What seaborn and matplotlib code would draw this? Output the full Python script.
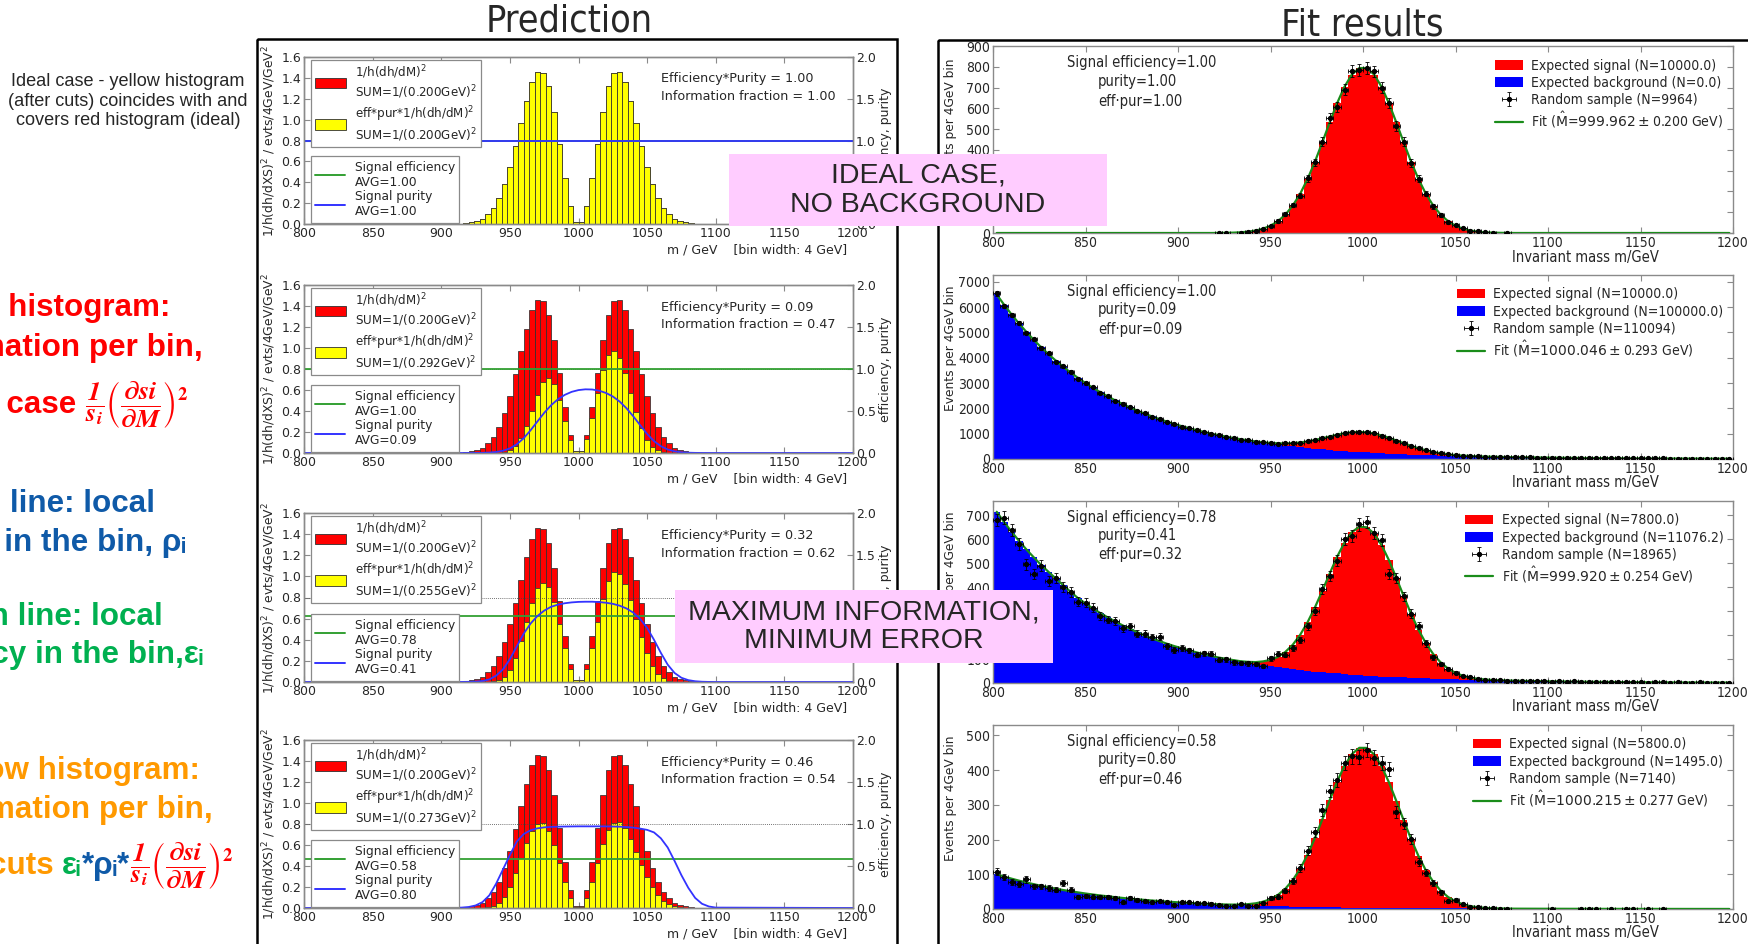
import numpy as np
import pandas as pd
import matplotlib
matplotlib.use("Agg")
import matplotlib.pyplot as plt
import seaborn as sns
from matplotlib import font_manager
from matplotlib.patches import Rectangle, Patch
from matplotlib.lines import Line2D
from matplotlib.ticker import FormatStrFormatter

sns.set_theme(style="ticks")
plt.rcParams["font.family"] = ["DejaVu Sans"]
plt.rcParams["mathtext.fontset"] = "dejavusans"

_fonts = font_manager.fontManager.ttflist
_names = {f.name for f in _fonts}
ARIAL = "Liberation Sans" if "Liberation Sans" in _names else "DejaVu Sans"
if any(f.name == "DejaVu Sans" and str(f.stretch) in ("condensed", "semi-condensed") for f in _fonts):
    NARROW_KW = dict(family="DejaVu Sans", stretch="condensed")
elif "Liberation Sans Narrow" in _names:
    NARROW_KW = dict(family="Liberation Sans Narrow", stretch="normal")
else:
    NARROW_KW = dict(family=ARIAL, stretch="normal")
NARROW_TXT = dict(fontfamily=NARROW_KW["family"], fontstretch=NARROW_KW["stretch"])

RED, YELLOW, BLUE, GREEN = "#ff0000", "#ffff00", "#0000ff", "#1a8c1a"
LINE_BLUE, LINE_GREEN = "#3333ff", "#33a033"
GRAY = "#8a8a8a"
TXT_RED, TXT_BLUE, TXT_GREEN, TXT_ORANGE = "#ff0000", "#0f5aa8", "#00b050", "#ff9900"

# ---------------------------------------------------------------- data
# information per 4 GeV bin, bins 916..1084 GeV
info_edges = list(range(916, 1088, 4))
info_centers = np.array(info_edges[:-1]) + 2
info_ideal = [0.008, 0.015, 0.027, 0.052, 0.093, 0.156, 0.250, 0.379, 0.547, 0.750,
              0.970, 1.182, 1.358, 1.457, 1.449, 1.319, 1.077, 0.766, 0.440, 0.172,
              0.020, 0.020, 0.172, 0.440, 0.766, 1.077, 1.319, 1.449, 1.457, 1.358,
              1.182, 0.970, 0.750, 0.547, 0.379, 0.250, 0.156, 0.093, 0.052, 0.027,
              0.015, 0.008]
info_cut_r1 = info_ideal  # eff*pur = 1 everywhere
info_cut_r2 = [0.0, 0.0, 0.0, 0.0001, 0.0004, 0.0014, 0.0045, 0.0124, 0.031, 0.071,
               0.143, 0.254, 0.402, 0.557, 0.675, 0.715, 0.653, 0.505, 0.308, 0.125,
               0.015, 0.015, 0.131, 0.335, 0.576, 0.790, 0.932, 0.969, 0.903, 0.758,
               0.571, 0.390, 0.237, 0.127, 0.061, 0.026, 0.010, 0.0034, 0.001, 0.0003,
               0.0001, 0.0]
info_cut_r3 = [0.0, 0.0, 0.0001, 0.0005, 0.0019, 0.0067, 0.0205, 0.0503, 0.115, 0.228,
               0.386, 0.570, 0.750, 0.886, 0.940, 0.897, 0.756, 0.548, 0.320, 0.126,
               0.0148, 0.0148, 0.127, 0.326, 0.566, 0.790, 0.960, 1.041, 1.026, 0.929,
               0.774, 0.598, 0.424, 0.273, 0.156, 0.0794, 0.0352, 0.0134, 0.0043, 0.0012,
               0.0003, 0.0001]
info_cut_r4 = [0.0, 0.0002, 0.0006, 0.0021, 0.0072, 0.0212, 0.0519, 0.109, 0.200, 0.330,
               0.475, 0.616, 0.733, 0.801, 0.805, 0.737, 0.604, 0.430, 0.248, 0.097,
               0.0113, 0.0113, 0.097, 0.248, 0.431, 0.607, 0.742, 0.814, 0.818, 0.760,
               0.658, 0.536, 0.410, 0.295, 0.199, 0.125, 0.0711, 0.0371, 0.0169, 0.0066,
               0.0026, 0.0009]

# local signal purity (right axis), sampled on 800, 900..1100 step 5, 1200
purity_x = np.r_[800, np.arange(900, 1101, 5), 1200]
purity_r2 = [0.0,
             0.0, 0.0, 0.0, 0.0001, 0.0003, 0.0008, 0.0021, 0.0053, 0.0125, 0.027,
             0.055, 0.103, 0.175, 0.269, 0.374, 0.478, 0.568, 0.640, 0.692, 0.728,
             0.749, 0.758, 0.756, 0.742, 0.715, 0.673, 0.612, 0.532, 0.435, 0.330,
             0.227, 0.142, 0.081, 0.042, 0.020, 0.0087, 0.0037, 0.0015, 0.0005, 0.0002,
             0.0,
             0.0]
purity_r3 = [0.0,
             0.0, 0.0, 0.0002, 0.0008, 0.002, 0.005, 0.012, 0.03, 0.075, 0.15,
             0.27, 0.42, 0.57, 0.69, 0.78, 0.845, 0.89, 0.915, 0.932, 0.942,
             0.948, 0.95, 0.95, 0.946, 0.938, 0.925, 0.903, 0.87, 0.82, 0.745,
             0.64, 0.5, 0.345, 0.205, 0.107, 0.05, 0.022, 0.009, 0.003, 0.001,
             0.0,
             0.0]
purity_r4 = [0.0,
             0.0, 0.0005, 0.002, 0.005, 0.012, 0.03, 0.07, 0.15, 0.29, 0.46,
             0.63, 0.79, 0.88, 0.925, 0.948, 0.96, 0.966, 0.968, 0.97, 0.971,
             0.972, 0.972, 0.972, 0.972, 0.971, 0.97, 0.968, 0.964, 0.957, 0.945,
             0.93, 0.9, 0.83, 0.72, 0.56, 0.39, 0.24, 0.12, 0.05, 0.018,
             0.005,
             0.0]

# fitted mass spectra, 4 GeV bins 800..1200 GeV
fit_edges = list(range(800, 1204, 4))
fit_centers = np.array(fit_edges[:-1]) + 2
SIG_SLICE = slice(30, 70)  # signal bins 920..1080 GeV

sig_r1 = [0.4, 0.84, 1.76, 3.4, 6.5, 11.9, 20.8, 35.0, 56.6, 88.0,
          131.3, 188.1, 259.1, 342.8, 435.7, 532.2, 624.6, 704.2, 762.8, 794.0,
          794.0, 762.8, 704.2, 624.6, 532.2, 435.7, 342.8, 259.1, 188.1, 131.3,
          88.0, 56.6, 35.0, 20.8, 11.9, 6.5, 3.4, 1.76, 0.84, 0.4]
sig_r2 = sig_r1  # same expected signal, N=10000
sig_r3 = [0.31, 0.66, 1.37, 2.65, 5.07, 9.28, 16.2, 27.3, 44.1, 68.6,
          102.4, 146.7, 202.1, 267.4, 339.8, 415.1, 487.2, 549.3, 595.0, 619.3,
          619.3, 595.0, 549.3, 487.2, 415.1, 339.8, 267.4, 202.1, 146.7, 102.4,
          68.6, 44.1, 27.3, 16.2, 9.28, 5.07, 2.65, 1.37, 0.66, 0.31]
sig_r4 = [0.23, 0.49, 1.02, 1.97, 3.77, 6.90, 12.1, 20.3, 32.8, 51.0,
          76.2, 109.1, 150.3, 198.8, 252.7, 308.7, 362.3, 408.4, 442.4, 460.5,
          460.5, 442.4, 408.4, 362.3, 308.7, 252.7, 198.8, 150.3, 109.1, 76.2,
          51.0, 32.8, 20.3, 12.1, 6.90, 3.77, 1.97, 1.02, 0.49, 0.23]

bkg_r2 = [6500, 6094, 5714, 5357, 5023, 4710, 4416, 4140, 3882, 3640,
          3413, 3200, 3000, 2813, 2637, 2473, 2318, 2174, 2038, 1911,
          1792, 1680, 1575, 1477, 1385, 1298, 1217, 1141, 1070, 1003,
          941, 882, 827, 775, 727, 682, 639, 599, 562, 527,
          494, 463, 434, 407, 382, 358, 335, 315, 295, 276,
          259, 243, 228, 214, 200, 188, 176, 165, 155, 145,
          136, 127, 119, 112, 105, 98, 92, 86, 81, 76,
          71, 67, 63, 59, 55, 51, 48, 45, 42, 40,
          37, 35, 33, 31, 29, 27, 25, 24, 22, 21,
          20, 18, 17, 16, 15, 14, 13, 12, 12, 11]
bkg_r3 = [715, 672, 632, 594, 558, 525, 493, 464, 436, 408,
          380, 354, 332, 311, 292, 274, 257, 241, 226, 212,
          198, 186, 175, 164, 154, 145, 136, 128, 120, 113,
          106, 100, 94, 88, 83, 78, 74, 69, 65, 61,
          57, 54, 51, 48, 45, 42, 40, 37, 35, 33,
          31, 29, 27, 26, 24, 23, 21, 20, 19, 18,
          17, 16, 15, 14, 13, 12.5, 12, 11, 10.5, 10,
          9.4, 8.8, 8.3, 7.8, 7.3, 6.9, 6.5, 6.1, 5.7, 5.4,
          5.0, 4.7, 4.4, 4.2, 3.9, 3.7, 3.5, 3.3, 3.1, 2.9,
          2.7, 2.5, 2.4, 2.2, 2.1, 2.0, 1.9, 1.8, 1.7, 1.6]
bkg_r4 = [100, 93.5, 87.4, 81.7, 76.4, 71.5, 66.8, 62.5, 58.4, 54.6,
          51.1, 47.8, 44.6, 41.7, 39.0, 36.5, 34.1, 31.9, 29.8, 27.9,
          26.1, 24.4, 22.8, 21.3, 19.9, 18.6, 17.4, 16.3, 15.2, 14.2,
          13.3, 12.4, 11.6, 10.9, 10.2, 9.5, 8.9, 8.3, 7.8, 7.3,
          6.8, 6.3, 5.9, 5.5, 5.2, 4.9, 4.5, 4.2, 4.0, 3.7,
          3.5, 3.2, 3.0, 2.8, 2.6, 2.5, 2.3, 2.2, 2.0, 1.9,
          1.8, 1.66, 1.55, 1.45, 1.36, 1.27, 1.19, 1.11, 1.04, 0.97,
          0.91, 0.85, 0.79, 0.74, 0.69, 0.65, 0.61, 0.57, 0.53, 0.50,
          0.46, 0.43, 0.40, 0.38, 0.35, 0.33, 0.31, 0.29, 0.27, 0.25,
          0.24, 0.22, 0.21, 0.19, 0.18, 0.17, 0.16, 0.15, 0.14, 0.13]

# random samples (events per bin)
data_r1_window = [1, 1, 0, 2, 4, 12, 18, 33, 58, 92, 135, 180, 264, 340, 440, 555, 605, 690, 780, 785,
                  795, 778, 700, 625, 515, 440, 336, 262, 190, 128, 85, 52, 38, 22, 12, 8, 4, 2, 0, 1]
data_r2 = [6540, 6060, 5690, 5370, 4990, 4730, 4380, 4170, 3850, 3660,
           3440, 3180, 2990, 2840, 2610, 2490, 2300, 2190, 2060, 1890,
           1810, 1660, 1590, 1460, 1400, 1280, 1230, 1130, 1080, 990,
           950, 870, 840, 770, 740, 690, 655, 640, 610, 620,
           630, 645, 700, 745, 825, 885, 965, 1010, 1065, 1060,
           1050, 1010, 925, 845, 725, 630, 515, 430, 340, 280,
           220, 186, 150, 135, 115, 106, 93, 90, 80, 78,
           73, 65, 64, 57, 56, 50, 49, 44, 43, 38,
           38, 34, 34, 30, 30, 26, 26, 23, 22, 20,
           21, 17, 18, 15, 16, 13, 14, 11, 12, 10]
data_r3 = [680, 690, 640, 580, 495, 455, 490, 425, 440, 400,
           380, 340, 335, 315, 280, 265, 258, 228, 236, 205,
           205, 192, 193, 155, 138, 146, 136, 118, 124, 122,
           98, 99, 86, 84, 82, 80, 72, 104, 122, 118,
           145, 180, 236, 300, 392, 448, 510, 602, 615, 662,
           672, 628, 598, 455, 438, 362, 290, 240, 165, 108,
           80, 60, 42, 30, 24, 18, 14, 12, 11, 9,
           10, 9, 7, 8, 9, 6, 7, 5, 7, 6,
           4, 5, 6, 3, 4, 4, 5, 3, 2, 4,
           3, 2, 3, 2, 1, 3, 2, 1, 2, 2]
data_r4 = [108, 92, 78, 72, 85, 65, 65, 60, 55, 75,
           55, 35, 38, 36, 34, 35, 32, 20, 32, 26,
           22, 20, 22, 20, 12, 20, 19, 17, 16, 15,
           11, 10, 9, 14, 10, 9, 17, 31, 36, 52,
           80, 118, 168, 222, 286, 340, 372, 420, 440, 438,
           458, 436, 420, 402, 280, 246, 202, 135, 104, 76,
           48, 22, 26, 13, 7, 5, 3, 2, 1, 1,
           0, 0, 0, 0, 0, 1, 0, 0, 0, 1,
           1, 1, 0, 1, 0, 1, 1, 0, 1, 0,
           1, 0, 0, 0, 0, 0, 0, 0, 0, 0]

pred_rows = [
    dict(cut=info_cut_r1, sum_cut="0.200", effpur="1.00", frac="1.00", eff=1.00, eff_avg="1.00", pur_avg="1.00", purity=None),
    dict(cut=info_cut_r2, sum_cut="0.292", effpur="0.09", frac="0.47", eff=1.00, eff_avg="1.00", pur_avg="0.09", purity=purity_r2),
    dict(cut=info_cut_r3, sum_cut="0.255", effpur="0.32", frac="0.62", eff=0.78, eff_avg="0.78", pur_avg="0.41", purity=purity_r3),
    dict(cut=info_cut_r4, sum_cut="0.273", effpur="0.46", frac="0.54", eff=0.58, eff_avg="0.58", pur_avg="0.80", purity=purity_r4),
]
fit_rows = [
    dict(sig=sig_r1, bkg=None, data=None, eff="1.00", pur="1.00", effpur="1.00", n_sig="10000.0", n_bkg="0.0",
         n_data="9964", mhat="999.962", err="0.200", ymax=900, ystep=100),
    dict(sig=sig_r2, bkg=bkg_r2, data=data_r2, eff="1.00", pur="0.09", effpur="0.09", n_sig="10000.0", n_bkg="100000.0",
         n_data="110094", mhat="1000.046", err="0.293", ymax=7270, ystep=1000),
    dict(sig=sig_r3, bkg=bkg_r3, data=data_r3, eff="0.78", pur="0.41", effpur="0.32", n_sig="7800.0", n_bkg="11076.2",
         n_data="18965", mhat="999.920", err="0.254", ymax=760, ystep=100),
    dict(sig=sig_r4, bkg=bkg_r4, data=data_r4, eff="0.58", pur="0.80", effpur="0.46", n_sig="5800.0", n_bkg="1495.0",
         n_data="7140", mhat="1000.215", err="0.277", ymax=530, ystep=100),
]

# ---------------------------------------------------------------- layout
W, H = 1748, 944
fig = plt.figure(figsize=(W / 100, H / 100), dpi=100)
fig.patch.set_facecolor("white")


def add_px_axes(x0, x1, y0, y1):
    return fig.add_axes([x0 / W, 1 - y1 / H, (x1 - x0) / W, (y1 - y0) / H])


pred_y = [(57, 224), (285, 453), (513, 682), (740, 908)]
fit_y = [(46, 233), (275, 459), (501, 683), (725, 909)]


def style_spines(ax):
    for s in ax.spines.values():
        s.set_color(GRAY)
        s.set_linewidth(1.0)


def draw_prediction(ax, row):
    df = pd.DataFrame({"m": info_centers, "ideal": info_ideal, "cut": row["cut"]})
    sns.histplot(data=df, x="m", weights="ideal", bins=info_edges, element="bars",
                 color=RED, edgecolor="#303030", linewidth=0.55, alpha=1.0, ax=ax)
    sns.histplot(data=df, x="m", weights="cut", bins=info_edges, element="bars",
                 color=YELLOW, edgecolor="#303030", linewidth=0.55, alpha=1.0, ax=ax)
    ax.set_xlim(800, 1200)
    ax.set_ylim(0, 1.6)
    ax.set_xticks(np.arange(800, 1201, 50))
    ax.set_yticks(np.arange(0, 1.61, 0.2))
    ax.yaxis.set_major_formatter(FormatStrFormatter("%.1f"))
    ax.set_xlabel("")
    ax.set_ylabel("")
    ax.tick_params(direction="in", length=4, width=0.8, color=GRAY, labelsize=9,
                   top=True, bottom=True, left=True, right=False, pad=2)
    style_spines(ax)
    ax.text(-0.064, 0.5, "1/h(dh/dXS)$^2$ / evts/4GeV/GeV$^2$", rotation=90, fontsize=8.9,
            ha="center", va="center", transform=ax.transAxes)
    ax.text(0.99, -0.155, "m / GeV    [bin width: 4 GeV]", fontsize=9, ha="right", va="center",
            transform=ax.transAxes)

    ax2 = ax.twinx()
    ax2.set_ylim(0, 2.0)
    ax2.set_yticks([0, 0.5, 1.0, 1.5, 2.0])
    ax2.yaxis.set_major_formatter(FormatStrFormatter("%.1f"))
    ax2.tick_params(direction="in", length=4, width=0.8, color=GRAY, labelsize=9, pad=2)
    style_spines(ax2)
    ax2.text(1.06, 0.5, "efficiency, purity", rotation=90, fontsize=9, ha="center", va="center",
             transform=ax2.transAxes)

    ax2.axhline(1.0, color="#444444", lw=0.6, ls=(0, (1, 1.5)))
    ax2.axhline(row["eff"], color=LINE_GREEN, lw=1.3)
    if row["purity"] is None:
        ax2.axhline(1.0, color=LINE_BLUE, lw=1.3)
    else:
        sns.lineplot(x=purity_x, y=row["purity"], color=LINE_BLUE, linewidth=1.3, ax=ax2)
    ax2.set_ylabel("")

    ax2.text(0.65, 0.869, f"Efficiency*Purity = {row['effpur']}", fontsize=9.2, va="center",
             transform=ax2.transAxes)
    ax2.text(0.65, 0.762, f"Information fraction = {row['frac']}", fontsize=9.2, va="center",
             transform=ax2.transAxes)

    h1 = [Patch(facecolor=RED, edgecolor="#303030", lw=0.6),
          Patch(facecolor=YELLOW, edgecolor="#303030", lw=0.6)]
    l1 = ["1/h(dh/dM)$^2$\nSUM=1/(0.200GeV)$^2$",
          f"eff*pur*1/h(dh/dM)$^2$\nSUM=1/({row['sum_cut']}GeV)$^2$"]
    leg1 = ax2.legend(h1, l1, loc="upper left", bbox_to_anchor=(0.013, 0.985), borderaxespad=0,
                      fontsize=8.6, frameon=True, fancybox=False, edgecolor=GRAY, framealpha=1,
                      handlelength=2.6, handleheight=1.0, labelspacing=0.25, borderpad=0.3,
                      handletextpad=0.8)
    leg1.get_frame().set_linewidth(0.9)
    ax2.add_artist(leg1)
    h2 = [Line2D([], [], color=LINE_GREEN, lw=1.4), Line2D([], [], color=LINE_BLUE, lw=1.4)]
    l2 = [f"Signal efficiency\nAVG={row['eff_avg']}", f"Signal purity\nAVG={row['pur_avg']}"]
    leg2 = ax2.legend(h2, l2, loc="lower left", bbox_to_anchor=(0.013, 0.008), borderaxespad=0,
                      fontsize=8.8, frameon=True, fancybox=False, edgecolor=GRAY, framealpha=1,
                      handlelength=2.4, labelspacing=0.15, borderpad=0.35, handletextpad=0.8)
    leg2.get_frame().set_linewidth(0.9)


def draw_fit(ax, row):
    sig = np.zeros(len(fit_centers))
    sig[SIG_SLICE] = row["sig"]
    bkg = np.zeros(len(fit_centers)) if row["bkg"] is None else np.asarray(row["bkg"], float)
    if row["data"] is None:
        data = np.zeros(len(fit_centers))
        data[SIG_SLICE] = data_r1_window
    else:
        data = np.asarray(row["data"], float)
    df = pd.DataFrame({"m": fit_centers, "total": bkg + sig, "bkg": bkg})

    sns.histplot(data=df, x="m", weights="total", bins=fit_edges, element="step", fill=True,
                 color=RED, alpha=1.0, linewidth=0, ax=ax)
    if bkg.any():
        sns.histplot(data=df, x="m", weights="bkg", bins=fit_edges, element="step", fill=True,
                     color=BLUE, alpha=1.0, linewidth=0, ax=ax)
    sns.lineplot(data=df, x="m", y="total", color=GREEN, linewidth=1.6, ax=ax, zorder=4)
    keep = data > 0
    eb = ax.errorbar(fit_centers[keep], data[keep], yerr=np.sqrt(data[keep]), xerr=2, fmt="o",
                     ms=2.8, color="black", ecolor="black", elinewidth=0.6, capsize=1.3,
                     capthick=0.6, zorder=5)

    ax.set_xlim(800, 1200)
    ax.set_ylim(0, row["ymax"])
    ax.set_xticks(np.arange(800, 1201, 50))
    ax.set_yticks(np.arange(0, row["ymax"] + 1, row["ystep"]))
    ax.set_xlabel("")
    ax.set_ylabel("")
    ax.tick_params(direction="in", length=4, width=0.8, color=GRAY, labelsize=10,
                   top=True, bottom=True, left=True, right=True, pad=2)
    for lab in ax.get_xticklabels() + ax.get_yticklabels():
        lab.set_fontfamily(NARROW_KW["family"])
        lab.set_fontstretch(NARROW_KW["stretch"])
    style_spines(ax)

    ax.text(-0.057, 0.6, "Events per 4GeV bin", rotation=90, fontsize=8.8, ha="center", va="center",
            transform=ax.transAxes)
    ax.text(0.8, -0.13, "Invariant mass m/GeV", fontsize=10.5, ha="center", va="center",
            transform=ax.transAxes, **NARROW_TXT)
    ax.text(0.1, 0.91, f"Signal efficiency={row['eff']}", fontsize=10.5, va="center",
            transform=ax.transAxes, **NARROW_TXT)
    ax.text(0.142, 0.81, f"purity={row['pur']}", fontsize=10.5, va="center",
            transform=ax.transAxes, **NARROW_TXT)
    ax.text(0.142, 0.705, f"eff\u00b7pur={row['effpur']}", fontsize=10.5, va="center",
            transform=ax.transAxes, **NARROW_TXT)

    handles = [Patch(facecolor=RED, edgecolor="none"), Patch(facecolor=BLUE, edgecolor="none"), eb,
               Line2D([], [], color=GREEN, lw=1.6)]
    labels = [f"Expected signal (N={row['n_sig']})", f"Expected background (N={row['n_bkg']})",
              f"Random sample (N={row['n_data']})",
              f"Fit ($\\hat{{\\mathrm{{M}}}}$=${row['mhat']}\\pm${row['err']} GeV)"]
    ax.legend(handles, labels, loc="upper right", bbox_to_anchor=(1.0, 0.985), borderaxespad=0.3,
              frameon=False, prop={"family": NARROW_KW["family"], "stretch": NARROW_KW["stretch"], "size": 10},
              handlelength=2.0, handletextpad=0.6, labelspacing=0.22)


for (y0, y1), row in zip(pred_y, pred_rows):
    draw_prediction(add_px_axes(304, 853, y0, y1), row)
for (y0, y1), row in zip(fit_y, fit_rows):
    draw_fit(add_px_axes(993, 1733, y0, y1), row)

# ---------------------------------------------------------------- overlay: frames, titles, notes
ov = fig.add_axes([0, 0, 1, 1], zorder=20)
ov.set_xlim(0, W)
ov.set_ylim(H, 0)
ov.axis("off")

ov.add_patch(Rectangle((257, 39), 640, 930, fill=False, ec="black", lw=1.8, clip_on=False))
ov.add_patch(Rectangle((938, 40), 840, 930, fill=False, ec="black", lw=1.8, clip_on=False))

ov.text(569, 22, "Prediction", fontsize=27, ha="center", va="center", **NARROW_TXT)
ov.text(1362, 25, "Fit results", fontsize=27, ha="center", va="center", **NARROW_TXT)

ov.add_patch(Rectangle((729, 154), 378, 72, fc="#ffccff", ec="none"))
ov.text(918, 190, "IDEAL CASE,\nNO BACKGROUND", fontsize=20.5, family=ARIAL, ha="center",
        va="center", linespacing=1.15)
ov.add_patch(Rectangle((675, 590), 378, 73, fc="#ffccff", ec="none"))
ov.text(864, 627, "MAXIMUM INFORMATION,\nMINIMUM ERROR", fontsize=20.5, family=ARIAL, ha="center",
        va="center", linespacing=1.15)

ov.text(128, 101, "Ideal case - yellow histogram\n(after cuts) coincides with and\ncovers red histogram (ideal)",
        fontsize=13.1, family=ARIAL, ha="center", va="center", linespacing=1.2)

FORMULA = r"$\dfrac{\mathbfit{1}}{\mathbfit{s_i}}\left(\dfrac{\mathbfit{\partial si}}{\mathbfit{\partial M}}\right)^\mathbf{2}$"
BIG = 22.6
MATH = 19
FAM = [ARIAL, "DejaVu Sans"]


def right_chain(pieces, x_right, y):
    prev = None
    for txt, col, size in reversed(pieces):
        kw = dict(color=col, fontsize=size, fontweight="bold", family=FAM, ha="right", va="center",
                  annotation_clip=False, math_fontfamily="stix")
        if prev is None:
            prev = ov.annotate(txt, xy=(x_right, y), xycoords="data", **kw)
        else:
            prev = ov.annotate(txt, xy=(0, 0.5), xycoords=prev, **kw)


right_chain([("Red histogram:", TXT_RED, BIG)], 170, 308)
right_chain([("information per bin,", TXT_RED, BIG)], 203, 348)
right_chain([("ideal case ", TXT_RED, BIG), (FORMULA, TXT_RED, MATH)], 188, 405)
right_chain([("Blue line: local", TXT_BLUE, BIG)], 155, 504)
right_chain([("purity in the bin, \u03c1\u1d62", TXT_BLUE, BIG)], 186, 543)
right_chain([("Green line: local", TXT_GREEN, BIG)], 163, 617)
right_chain([("efficiency in the bin,\u03b5\u1d62", TXT_GREEN, BIG)], 203, 655)
right_chain([("Yellow histogram:", TXT_ORANGE, BIG)], 200, 771)
right_chain([("information per bin,", TXT_ORANGE, BIG)], 213, 810)
right_chain([("after cuts ", TXT_ORANGE, BIG), ("\u03b5\u1d62", TXT_GREEN, BIG),
             ("*\u03c1\u1d62*", TXT_BLUE, BIG), (FORMULA, TXT_RED, MATH)], 233, 866)

fig.savefig("out.png", dpi=100)
